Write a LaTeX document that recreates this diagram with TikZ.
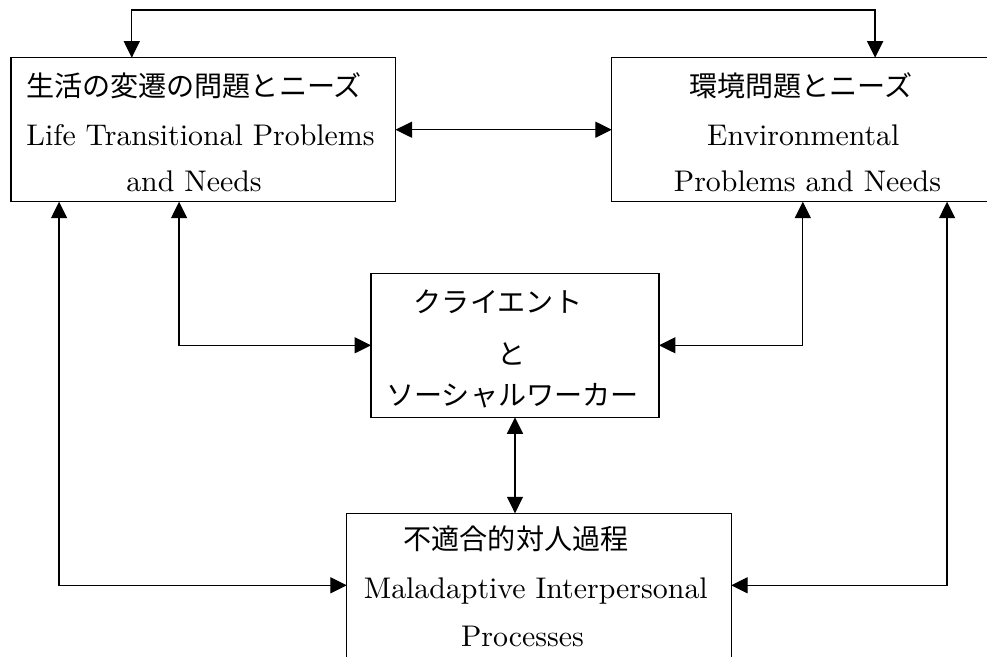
\documentclass[tikz,border=0pt]{standalone}
\usepackage{fontspec}
\usepackage{tikz}
\usetikzlibrary{arrows.meta,calc}
\newfontfamily\jpfont{Noto Sans CJK JP}
\newfontfamily\enfont{lmroman10-regular.otf}

\begin{document}
\begin{tikzpicture}[
  x=0.02cm, y=-0.02cm,
  box/.style={draw, line width=0.75pt, inner sep=0pt, outer sep=0pt, minimum height=2.88cm},
  widebox/.style={box, minimum width=7.69cm},
  midbox/.style={box, minimum width=5.76cm},
  dbl/.style={<->, >={Triangle[length=3.3mm, width=3.2mm]}, line width=0.75pt},
  en/.style={anchor=base, font=\enfont\fontsize{17}{20}\selectfont},
  jp/.style={anchor=base, font=\jpfont\fontsize{16}{20}\selectfont},
]
\useasboundingbox (0,0) rectangle (987,656);

% ===== boxes =====
\node[widebox] (life) at (203.3,129.7) {};
\node[widebox] (env)  at (804,129.7) {};
\node[midbox]  (csw)  at (515,345.3) {};
\node[widebox] (mal)  at (539,585.3) {};

% ===== texts =====
\node[jp] (lifejp)  at (194,96.5)    {生活の変遷の問題とニーズ};
\node[en] (lifeen1) at (200.5,145)   {Life Transitional Problems};
\node[en] (lifeen2) at (194,191.7)   {and Needs};

\node[jp] (envjp)   at (800.8,96.5)  {環境問題とニーズ};
\node[en] (enven1)  at (803.3,145)   {Environmental};
\node[en] (enven2)  at (807.5,191.7) {Problems and Needs};

\node[jp] (cswjp1)  at (498,312.5)   {クライエント};
\node[jp] (cswjp2)  at (512,364)     {と};
\node[jp] (cswjp3)  at (512.5,405.5) {ソーシャルワーカー};

\node[jp] (maljp)   at (516,549.5)   {不適合的対人過程};
\node[en] (malen1)  at (535.8,598.3) {Maladaptive Interpersonal};
\node[en] (malen2)  at (522.5,646)   {Processes};

% ===== connectors =====
\coordinate (topline) at (0,10);
\draw[dbl] ($(life.north west)+(120.7,0)$) coordinate (lifetop) -- (lifetop |- topline)
  -| ($(env.north west)+(263.3,0)$);
\draw[dbl] (life) -- (env);
\draw[dbl] ($(life.south west)+(168,0)$) |- (csw);
\draw[dbl] ($(life.south west)+(48,0)$) |- (mal);
\draw[dbl] ($(env.south west)+(191,0)$) |- (csw);
\draw[dbl] ($(env.south west)+(335.3,0)$) |- (mal);
\draw[dbl] (csw) -- (csw.south |- mal.north);

\end{tikzpicture}
\end{document}
